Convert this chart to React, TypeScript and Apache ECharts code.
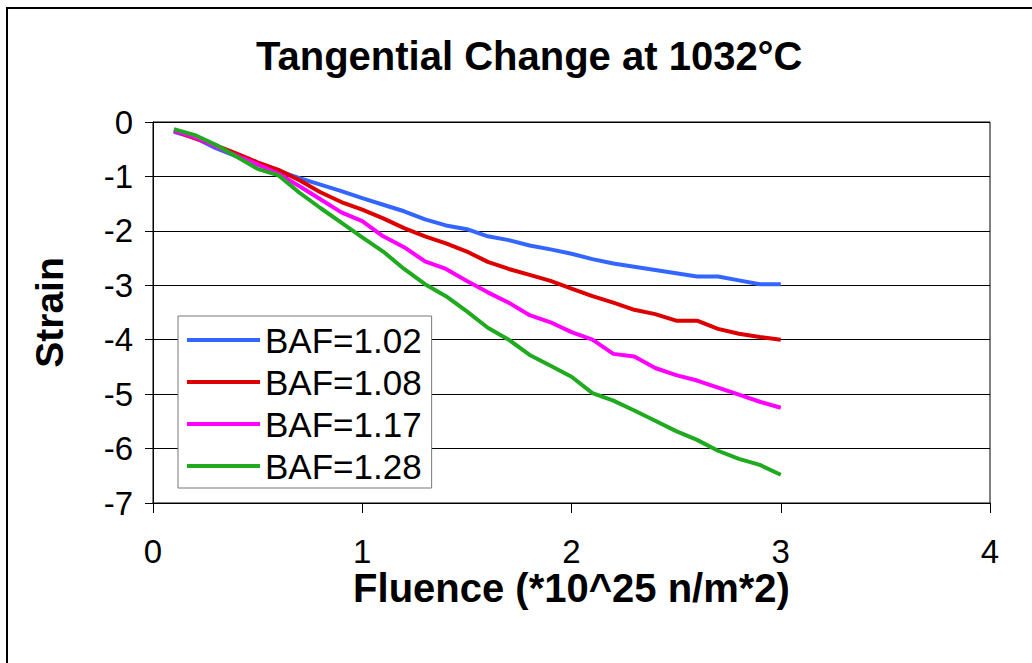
import React, { useEffect, useRef } from "react";
import * as echarts from "echarts";

const fluence = [
  0.1, 0.2, 0.3, 0.4, 0.5, 0.6, 0.7, 0.8, 0.9, 1.0,
  1.1, 1.2, 1.3, 1.4, 1.5, 1.6, 1.7, 1.8, 1.9, 2.0,
  2.1, 2.2, 2.3, 2.4, 2.5, 2.6, 2.7, 2.8, 2.9, 3.0,
];

const baf102 = [
  -0.18, -0.29, -0.48, -0.63, -0.78, -0.9, -1.03, -1.15, -1.27, -1.4,
  -1.52, -1.64, -1.79, -1.9, -1.97, -2.1, -2.17, -2.27, -2.34, -2.42,
  -2.52, -2.6, -2.66, -2.72, -2.78, -2.84, -2.84, -2.91, -2.98, -2.98,
];
const baf108 = [
  -0.16, -0.3, -0.43, -0.58, -0.74, -0.88, -1.07, -1.29, -1.47, -1.61,
  -1.77, -1.95, -2.1, -2.23, -2.38, -2.57, -2.7, -2.81, -2.92, -3.06,
  -3.2, -3.32, -3.45, -3.53, -3.65, -3.65, -3.8, -3.89, -3.95, -4.0,
];
const baf117 = [
  -0.16, -0.28, -0.45, -0.62, -0.78, -0.95, -1.18, -1.42, -1.66, -1.82,
  -2.1, -2.3, -2.56, -2.7, -2.92, -3.13, -3.32, -3.55, -3.68, -3.86,
  -4.0, -4.26, -4.31, -4.52, -4.65, -4.75, -4.88, -5.01, -5.14, -5.25,
];
const baf128 = [
  -0.13, -0.24, -0.42, -0.64, -0.86, -0.98, -1.3, -1.58, -1.85, -2.12,
  -2.38, -2.7, -2.98, -3.2, -3.48, -3.78, -4.0, -4.28, -4.48, -4.68,
  -4.98, -5.12, -5.3, -5.49, -5.68, -5.84, -6.04, -6.19, -6.3, -6.48,
];

const seriesNames = ["BAF=1.02", "BAF=1.08", "BAF=1.17", "BAF=1.28"];
const seriesValues = [baf102, baf108, baf117, baf128];
const seriesColors = ["#3366ff", "#dd0000", "#ff00ff", "#1faa1f"];

const FONT = "'Liberation Sans', Arial, sans-serif";

export default function App() {
  const ref = useRef<HTMLDivElement>(null);
  useEffect(() => {
    if (!ref.current) return;
    const chart = echarts.init(ref.current, null, { renderer: "svg" });
    chart.setOption({
      animation: false,
      backgroundColor: "#ffffff",
      textStyle: { fontFamily: FONT },
      title: {
        text: "Tangential Change at 1032°C",
        left: 256,
        top: 36,
        padding: 0,
        textStyle: { fontFamily: FONT, fontSize: 40, fontWeight: "bold", color: "#000" },
      },
      graphic: [
        {
          type: "rect",
          shape: { x: 7, y: 8, width: 1060, height: 700 },
          style: { fill: "none", stroke: "#000", lineWidth: 2 },
          silent: true,
        },
      ],
      legend: {
        orient: "vertical",
        left: 178,
        top: 316,
        padding: [6, 10, 4, 9],
        itemGap: 6,
        itemWidth: 73,
        itemHeight: 4,
        icon: "rect",
        borderColor: "#777",
        borderWidth: 1,
        backgroundColor: "#fff",
        data: seriesNames,
        textStyle: { fontFamily: FONT, fontSize: 35, color: "#000", lineHeight: 36 },
      },
      grid: {
        left: 153,
        top: 122,
        right: 42,
        bottom: 160,
        show: true,
        borderColor: "#000",
        borderWidth: 1,
        containLabel: false,
      },
      xAxis: {
        type: "value",
        min: 0,
        max: 4,
        interval: 1,
        name: "Fluence (*10^25 n/m*2)",
        nameLocation: "middle",
        nameGap: 68,
        nameMoveOverlap: false,
        nameTextStyle: { fontFamily: FONT, fontSize: 40, fontWeight: "bold", color: "#000", lineHeight: 34 },
        axisLine: { show: true, onZero: false, lineStyle: { color: "#000", width: 1 } },
        axisTick: { show: true, inside: false, length: 10, lineStyle: { color: "#000" } },
        axisLabel: { margin: 34, fontFamily: FONT, fontSize: 33, color: "#000", lineHeight: 28 },
        splitLine: { show: false },
      },
      yAxis: {
        type: "value",
        min: -7,
        max: 0,
        interval: 1,
        name: "Strain",
        nameLocation: "middle",
        nameGap: 84,
        nameMoveOverlap: false,
        nameRotate: 90,
        nameTextStyle: { fontFamily: FONT, fontSize: 39, fontWeight: "bold", color: "#000" },
        axisLine: { show: true, lineStyle: { color: "#000", width: 1 } },
        axisTick: { show: true, inside: false, length: 8, lineStyle: { color: "#000" } },
        axisLabel: { margin: 20, fontFamily: FONT, fontSize: 33, color: "#000" },
        splitLine: { show: true, lineStyle: { color: "#000", width: 1 } },
      },
      series: seriesNames.map((name, i) => ({
        name,
        type: "line",
        data: fluence.map((x, j) => [x, seriesValues[i][j]]),
        showSymbol: false,
        symbol: "none",
        lineStyle: { color: seriesColors[i], width: 4 },
        itemStyle: { color: seriesColors[i] },
      })),
    });
    return () => chart.dispose();
  }, []);
  return (
    <div
      ref={ref}
      style={{ position: "fixed", left: 0, top: 0, width: 1032, height: 663 }}
    />
  );
}
